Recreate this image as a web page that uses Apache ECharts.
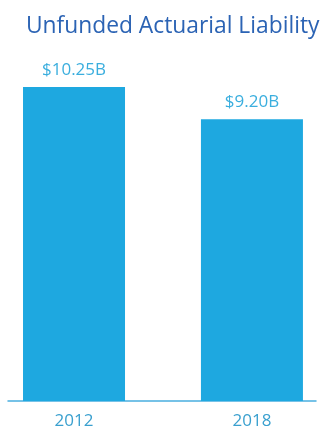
<!DOCTYPE html>
<html><head><meta charset="utf-8">
<script src="https://cdn.jsdelivr.net/npm/echarts@6/dist/echarts.min.js"></script>
<style>html,body{margin:0;padding:0;background:#fff}#c{width:324px;height:434px}</style>
</head><body><div id="c"></div>
<script>
const categories = ['2012', '2018'];
const values = [10.25, 9.20];
const valueLabels = ['$10.25B', '$9.20B'];
const title = 'Unfunded Actuarial Liability';

const chart = echarts.init(document.getElementById('c'), null, {renderer: 'canvas'});
chart.setOption({
  animation: false,
  backgroundColor: '#ffffff',
  title: {
    text: title, left: 21, top: 10,
    textStyle: {fontFamily: 'Open Sans', fontSize: 22.8, fontWeight: 'normal', color: '#2b63b4'}
  },
  grid: {left: 8, right: 8, top: 64, bottom: 33},
  xAxis: {
    type: 'value', min: -0.371, max: 1.36,
    axisLine: {show: true, onZero: false, lineStyle: {color: '#4aaee0', width: 1.5}},
    axisTick: {show: false}, splitLine: {show: false},
    axisLabel: {
      customValues: [0, 1],
      formatter: v => categories[Math.round(v)],
      color: '#3aa0cf', fontFamily: 'Open Sans', fontSize: 17, margin: 12
    }
  },
  yAxis: {type: 'value', min: 0, max: 11, show: false},
  series: [{
    type: 'bar',
    data: values.map((v, i) => [i, v]), barWidth: 102,
    itemStyle: {color: '#1ea8e0'},
    label: {
      show: true, position: 'top', distance: 8,
      formatter: p => valueLabels[p.dataIndex],
      color: '#3aaede', fontFamily: 'Open Sans', fontSize: 17
    }
  }]
});
</script></body></html>
